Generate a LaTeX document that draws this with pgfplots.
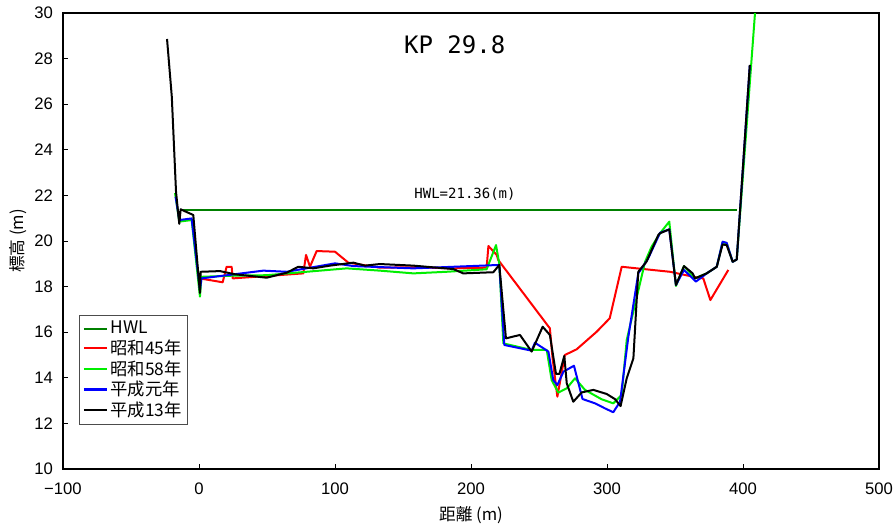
\documentclass[border=0pt]{standalone}
\usepackage{fontspec}
\usepackage{pgfplots}
\pgfplotsset{compat=1.18}
\setmainfont{Noto Sans CJK JP}
\newfontfamily\ticksf{Liberation Sans}
\newfontfamily\monof{DejaVu Sans Mono}
\definecolor{hwlgreen}{RGB}{0,128,0}
\definecolor{lgreen}{RGB}{0,238,0}
\begin{document}
\begin{tikzpicture}
\useasboundingbox (-47.25pt,-42.75pt) rectangle (624pt,351.75pt);
\begin{axis}[
  at={(0,0)}, anchor=south west,
  width=612pt, height=342pt, scale only axis,
  xmin=-100, xmax=500, ymin=10, ymax=30,
  xtick={-100,0,...,500}, ytick={10,12,...,30},
  xticklabels={−100,0,100,200,300,400,500},
  tick pos=left, tick align=inside,
  major tick length=4pt,
  /pgf/number format/assume math mode=true,
  ticklabel style={font=\ticksf\fontsize{12.5}{14}\selectfont},
  xticklabel style={yshift=-7pt},
  yticklabel style={xshift=-4pt},
  xlabel={距離 (m)}, ylabel={標高 (m)},
  label style={font=\fontsize{12.5}{14}\selectfont},
  xlabel style={yshift=-2pt},
  ylabel style={yshift=-1pt},
  axis line style={line width=0.9pt},
  every tick/.style={black, line width=0.6pt},
  legend style={at={(0.0196,0.0965)}, anchor=south west, draw=black!70, line width=0.8pt,
    font=\fontsize{13}{14}\selectfont, row sep=-1pt, inner sep=2.5pt, cells={anchor=west}},
  legend cell align=left,
  legend image post style={line width=1.6pt},
  every axis plot/.append style={line width=1.5pt, line join=round},
]
\addplot[hwlgreen] coordinates {(-12.7,21.36) (395.4,21.36)};
\addlegendentry{HWL}
\addplot[red] coordinates {
(0.5,18.36) (17.4,18.19) (20.3,18.87) (24,18.87) (24.8,18.36) (76.7,18.58) (78.7,19.39)
(81.6,18.87) (86.5,19.56) (100,19.53) (109.8,19.05) (133,18.83) (160,18.85) (185,18.8)
(211.5,18.83) (212.8,19.78) (218.9,19.39) (220,19.17) (258,16.17) (260,14.85) (263.5,13.17)
(269,15.0) (277.7,15.25) (292.4,16.02) (302,16.61) (310.8,18.87) (346.3,18.65)
(366,18.4) (370.8,18.36) (376,17.41) (389.2,18.73)};
\addlegendentry{昭和45年}
\addplot[lgreen] coordinates {
(-17.6,22.1) (-14.5,20.85) (-5.4,20.92) (0.7,17.56) (1.8,18.43) (25.2,18.48) (49.8,18.5)
(79,18.65) (108.6,18.8) (133,18.7) (157.6,18.58) (182,18.65) (211.5,18.76) (218.4,19.82)
(220.8,19.0) (223.8,15.51) (244.6,15.22) (255.7,15.22) (259.3,13.9) (264.2,13.35)
(270.4,13.54) (276.5,13.98) (283.8,13.47) (296,13.06) (304.6,12.88) (310.8,13.25)
(314.5,15.66) (328,19.09) (332.8,19.75) (339,20.34) (345.8,20.85) (350.7,18.03)
(356.6,18.9) (364.7,18.36) (373.3,18.58) (380.7,18.87) (385,19.95) (388,19.9)
(392.4,19.09) (395.4,19.19) (409.2,30.3)};
\addlegendentry{昭和58年}
\addplot[blue] coordinates {
(-17.2,21.94) (-14.5,20.92) (-5.4,20.99) (0.7,17.85) (1.8,18.36) (47.3,18.7) (64.5,18.65)
(100,19.02) (113.5,18.9) (157.6,18.8) (220.8,18.95) (224.5,15.44) (244.6,15.19)
(247,15.54) (256.9,15.15) (260.5,13.9) (263.5,13.68) (268,14.27) (275.7,14.53)
(282,13.07) (291.2,12.88) (298.5,12.66) (304.6,12.49) (309.6,12.95) (315.7,15.8)
(323,18.58) (330,19.2) (339,20.36) (345.8,20.51) (350.7,18.07) (356.6,18.73)
(365.4,18.22) (373.3,18.58) (380.7,18.87) (385,19.97) (388,19.92) (392.4,19.09)
(395.4,19.19) (405,27.7)};
\addlegendentry{平成元年}
\addplot[black] coordinates {
(-23.5,28.86) (-20,26.33) (-16.9,22.16) (-14.5,20.75) (-13.5,21.39) (-4.2,21.14)
(0.7,17.72) (1.2,18.65) (15.4,18.68) (26.5,18.54) (49.8,18.39) (64.5,18.61) (73,18.87)
(84,18.8) (96.3,18.92) (113.5,19.05) (122,18.92) (133,18.99) (157.6,18.92) (187,18.77)
(194.3,18.58) (216.4,18.63) (220.8,18.95) (225.7,15.73) (236,15.88) (244.6,15.15)
(252.7,16.24) (258,15.88) (262.5,14.17) (265,14.17) (268.6,14.96) (270.4,13.76)
(275.2,12.95) (281.4,13.36) (290,13.47) (299.8,13.29) (306,13.06) (310,12.76)
(314.5,13.98) (319.4,14.85) (323,18.65) (329,19.09) (337.7,20.26) (339,20.34)
(345.8,20.51) (350.7,18.07) (356.6,18.9) (363,18.58) (364.7,18.36) (373.3,18.58)
(380.7,18.87) (385,19.85) (388,19.82) (392.4,19.09) (395.4,19.19) (405,27.72)};
\addlegendentry{平成13年}
\node[font=\monof\fontsize{18}{20}\selectfont] at (axis cs:188,28.6) {KP 29.8};
\node[font=\monof\fontsize{10.5}{12}\selectfont] at (axis cs:195.6,22.05) {HWL=21.36(m)};
\end{axis}
\end{tikzpicture}
\end{document}
